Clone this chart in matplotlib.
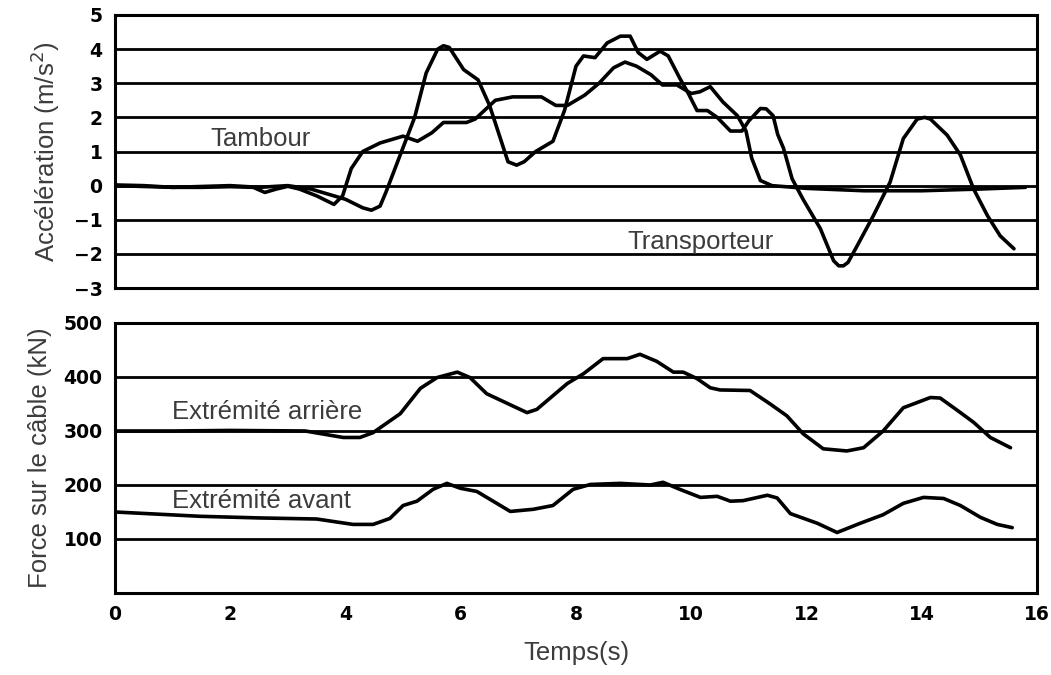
import matplotlib
matplotlib.use('Agg')
from matplotlib import pyplot as plt

# acceleration curves (m/s2)
t_tambour = [0, 0.5, 1, 1.5, 2, 2.4, 2.6, 2.8, 3.0, 3.2, 3.5, 3.8, 3.95, 4.1, 4.3, 4.6,
             5.0, 5.25, 5.5, 5.7, 6.1, 6.25, 6.6, 6.9, 7.4, 7.65, 7.85, 8.15, 8.4, 8.65,
             8.85, 9.05, 9.3, 9.5, 9.75, 10.0, 10.15, 10.33, 10.55, 10.8, 10.95, 11.05,
             11.2, 11.4, 12, 13, 14, 15, 15.8]
acc_tambour = [0.02, 0, -0.05, -0.05, -0.03, -0.05, -0.2, -0.1, -0.02, -0.1, -0.3, -0.55,
               -0.3, 0.5, 1.0, 1.25, 1.45, 1.3, 1.55, 1.85, 1.85, 1.95, 2.5, 2.6, 2.6,
               2.35, 2.35, 2.65, 3.0, 3.45, 3.62, 3.5, 3.25, 2.95, 2.95, 2.7, 2.75, 2.9,
               2.45, 2.05, 1.6, 0.8, 0.15, 0.0, -0.08, -0.15, -0.15, -0.1, -0.05]

t_transp = [0, 1, 2, 2.5, 3.0, 3.4, 3.8, 4.0, 4.3, 4.45, 4.6, 4.7, 4.95, 5.2, 5.4, 5.6,
            5.7, 5.8, 6.05, 6.3, 6.5, 6.82, 6.97, 7.1, 7.3, 7.6, 7.8, 8.0, 8.13, 8.33,
            8.54, 8.77, 8.94, 9.08, 9.23, 9.46, 9.6, 9.8, 9.95, 10.1, 10.28, 10.45, 10.68,
            10.88, 11.0, 11.2, 11.3, 11.42, 11.5, 11.6, 11.75, 11.94, 12.24, 12.47, 12.56,
            12.64, 12.72, 12.88, 13.16, 13.45, 13.68, 13.92, 14.05, 14.15, 14.44, 14.67,
            14.9, 15.14, 15.36, 15.6]
acc_transp = [0, -0.05, 0, -0.05, 0, -0.1, -0.3, -0.4, -0.65, -0.72, -0.6, -0.2, 0.9, 2.0,
              3.3, 4.0, 4.1, 4.05, 3.4, 3.1, 2.35, 0.7, 0.6, 0.7, 1.0, 1.3, 2.2, 3.5, 3.8,
              3.75, 4.18, 4.38, 4.38, 3.9, 3.7, 3.94, 3.8, 3.15, 2.7, 2.2, 2.2, 2.0, 1.6,
              1.6, 1.9, 2.26, 2.25, 2.05, 1.5, 1.1, 0.2, -0.4, -1.26, -2.2, -2.35, -2.35,
              -2.25, -1.76, -0.88, 0.1, 1.38, 1.95, 2.0, 1.95, 1.48, 0.9, -0.1, -0.88,
              -1.47, -1.85]

# cable force (kN)
t_arriere = [0, 1, 2, 3.3, 3.96, 4.25, 4.48, 4.95, 5.3, 5.59, 5.94, 6.16, 6.45, 7.15,
             7.32, 7.85, 8.13, 8.47, 8.89, 9.11, 9.4, 9.69, 9.86, 10.1, 10.33, 10.5,
             11.02, 11.37, 11.66, 11.94, 12.29, 12.7, 12.99, 13.33, 13.68, 14.15, 14.32,
             14.62, 14.9, 15.19, 15.54]
f_arriere = [300, 300, 301, 300, 288, 288, 297, 332, 379, 399, 409, 399, 369, 334, 340,
             388, 406, 434, 434, 442, 429, 409, 409, 397, 380, 376, 375, 350, 328, 295,
             267, 263, 269, 300, 343, 362, 361, 338, 316, 288, 269]

t_avant = [0, 1.48, 2.5, 3.5, 4.13, 4.48, 4.77, 5.0, 5.24, 5.52, 5.76, 5.99, 6.28, 6.86,
           7.26, 7.6, 7.95, 8.25, 8.77, 9.29, 9.51, 9.8, 10.16, 10.45, 10.68, 10.9, 11.32,
           11.49, 11.72, 12.19, 12.53, 12.93, 13.33, 13.68, 14.03, 14.38, 14.67, 15.02,
           15.31, 15.57]
f_avant = [150, 142, 139, 137, 127, 127, 138, 162, 170, 192, 203, 194, 188, 151, 155, 162,
           192, 201, 203, 200, 205, 192, 177, 179, 170, 171, 181, 176, 147, 129, 112, 129,
           145, 166, 177, 175, 162, 140, 127, 121]

acc_ticks = [-3, -2, -1, 0, 1, 2, 3, 4, 5]
force_ticks = [100, 200, 300, 400, 500]
time_ticks = [0, 2, 4, 6, 8, 10, 12, 14, 16]

tick_font = ['DejaVu Sans']
label_font = ['Liberation Sans', 'DejaVu Sans']
grey = '#3c3c3c'
line_kw = dict(color='black', lw=2.6, solid_joinstyle='round', solid_capstyle='round')

fig = plt.figure(figsize=(10.51, 6.75), dpi=100)
ax1 = fig.add_axes([0.1094, 0.5733, 0.8773, 0.4045])
ax2 = fig.add_axes([0.1094, 0.1215, 0.8773, 0.4000])

for ax in (ax1, ax2):
    for s in ax.spines.values():
        s.set_linewidth(2.2)
    ax.set_xlim(0, 16)
    ax.tick_params(length=0, pad=9, labelsize=13.5)
    ax.grid(axis='y', color='black', linewidth=2.0)
    ax.set_axisbelow(True)

# upper panel
ax1.plot(t_tambour, acc_tambour, **line_kw)
ax1.plot(t_transp, acc_transp, **line_kw)
ax1.set_ylim(-3, 5)
ax1.set_yticks(acc_ticks)
ax1.set_xticks(time_ticks)
ax1.set_xticklabels([])
ax1.set_ylabel('Accélération (m/s$^2$)', fontsize=18.5, color=grey, family=label_font, labelpad=8)
ax1.text(1.65, 1.38, 'Tambour', fontsize=18.5, color=grey, family=label_font, va='center')
ax1.text(8.9, -1.65, 'Transporteur', fontsize=18.5, color=grey, family=label_font, va='center')

# lower panel
ax2.plot(t_arriere, f_arriere, **line_kw)
ax2.plot(t_avant, f_avant, **line_kw)
ax2.set_ylim(0, 500)
ax2.set_yticks(force_ticks)
ax2.set_xticks(time_ticks)
ax2.set_ylabel('Force sur le câble (kN)', fontsize=18.5, color=grey, family=label_font, labelpad=8)
ax2.set_xlabel('Temps(s)', fontsize=18.5, color=grey, family=label_font, labelpad=12)
ax2.text(0.99, 336, 'Extrémité arrière', fontsize=18.5, color=grey, family=label_font, va='center')
ax2.text(0.99, 170, 'Extrémité avant', fontsize=18.5, color=grey, family=label_font, va='center')

for ax in (ax1, ax2):
    for lab in ax.get_xticklabels() + ax.get_yticklabels():
        lab.set_family(tick_font)
        lab.set_fontweight('bold')

fig.savefig('out.png', dpi=100)
